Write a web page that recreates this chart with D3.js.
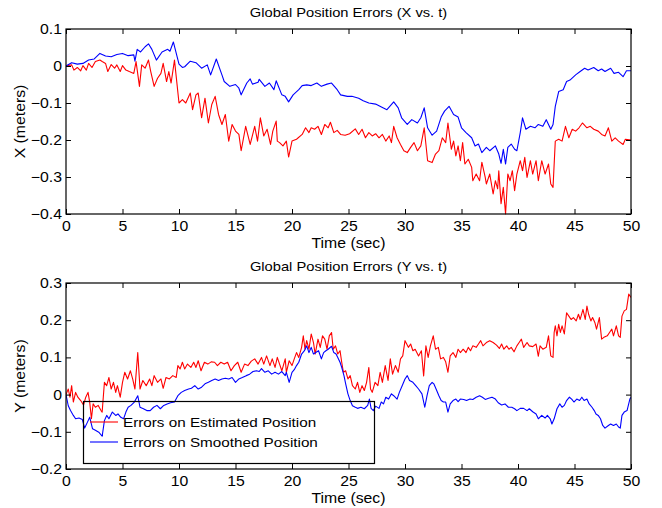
<!DOCTYPE html>
<html>
<head>
<meta charset="utf-8">
<script src="https://cdn.jsdelivr.net/npm/d3@7"></script>
<style>
  body { margin: 0; background: #fff; }
  svg text { font-family: "Liberation Sans", Arial, Helvetica, sans-serif; fill: #000; }
</style>
</head>
<body>
<svg id="chart" width="662" height="508"></svg>
<script>
// values, [time (sec), error (m)]
var xEstimated = [[0,0],[0.5,0.003],[0.7,-0.011],[1,-0.004],[1.3,-0.013],[1.5,0.001],[1.8,-0.011],[2,0.007],[2.3,-0.004],[2.6,0.012],[3,0.016],[3.2,0.012],[3.5,0.007],[3.7,-0.015],[4,0.004],[4.3,-0.006],[4.5,0.003],[4.8,-0.015],[5,0.001],[5.3,-0.011],[5.6,-0.015],[6,-0.02],[6.2,0.012],[6.5,-0.055],[6.7,0.003],[7,-0.006],[7.3,0.016],[7.5,-0.015],[7.8,-0.055],[8.1,-0.033],[8.4,-0.02],[8.6,0.007],[8.9,-0.042],[9.1,-0.015],[9.3,-0.046],[9.6,0.016],[10,-0.1],[10.3,-0.091],[10.6,-0.1],[11,-0.073],[11.2,-0.118],[11.5,-0.078],[11.7,-0.073],[12,-0.14],[12.3,-0.087],[12.6,-0.154],[12.9,-0.104],[13.2,-0.082],[13.5,-0.131],[13.8,-0.158],[14.1,-0.131],[14.4,-0.203],[14.7,-0.158],[15,-0.176],[15.3,-0.185],[15.5,-0.229],[15.9,-0.163],[16.3,-0.212],[16.7,-0.163],[16.95,-0.203],[17.2,-0.14],[17.5,-0.189],[17.8,-0.171],[18.1,-0.212],[18.3,-0.176],[18.6,-0.149],[18.7,-0.203],[18.9,-0.207],[19.2,-0.216],[19.5,-0.203],[19.7,-0.246],[20,-0.203],[20.4,-0.198],[20.9,-0.185],[21.2,-0.167],[21.5,-0.18],[21.7,-0.167],[22,-0.171],[22.3,-0.163],[22.6,-0.185],[22.9,-0.158],[23.2,-0.167],[23.4,-0.152],[23.7,-0.18],[24,-0.174],[24.3,-0.185],[24.7,-0.187],[25.1,-0.183],[25.6,-0.17],[25.9,-0.185],[26.2,-0.171],[26.5,-0.194],[26.8,-0.18],[27.1,-0.189],[27.4,-0.183],[27.7,-0.194],[28,-0.185],[28.3,-0.203],[28.6,-0.189],[28.8,-0.207],[29,-0.163],[29.3,-0.194],[29.6,-0.212],[29.9,-0.229],[30.2,-0.234],[30.5,-0.22],[30.8,-0.207],[31.1,-0.229],[31.4,-0.216],[31.7,-0.167],[32,-0.256],[32.4,-0.261],[32.7,-0.238],[33,-0.229],[33.3,-0.194],[33.6,-0.207],[33.8,-0.154],[34.1,-0.225],[34.3,-0.203],[34.5,-0.243],[34.7,-0.216],[34.9,-0.256],[35.1,-0.207],[35.3,-0.265],[35.6,-0.252],[35.9,-0.274],[36,-0.31],[36.3,-0.292],[36.6,-0.31],[36.8,-0.26],[37.1,-0.301],[37.2,-0.319],[37.5,-0.292],[37.8,-0.346],[38,-0.31],[38.2,-0.332],[38.3,-0.283],[38.5,-0.372],[38.7,-0.328],[38.9,-0.4],[39.1,-0.292],[39.3,-0.31],[39.5,-0.283],[39.7,-0.337],[39.9,-0.292],[40.2,-0.256],[40.4,-0.283],[40.6,-0.247],[40.8,-0.301],[41.1,-0.256],[41.3,-0.292],[41.6,-0.256],[41.8,-0.31],[42.1,-0.256],[42.4,-0.292],[42.7,-0.265],[42.9,-0.319],[43.1,-0.328],[43.3,-0.203],[43.6,-0.198],[43.9,-0.203],[44.2,-0.163],[44.5,-0.194],[44.8,-0.171],[45.1,-0.176],[45.4,-0.167],[45.7,-0.154],[46.1,-0.167],[46.4,-0.163],[46.7,-0.171],[47.1,-0.176],[47.4,-0.185],[47.7,-0.189],[48,-0.167],[48.3,-0.203],[48.6,-0.194],[48.9,-0.203],[49.3,-0.212],[49.5,-0.198],[50,-0.2]];

var xSmoothed = [[0,0],[0.5,0.009],[1,0.005],[1.5,0.007],[2,0.016],[2.5,0.019],[3,0.034],[3.5,0.027],[4,0.025],[4.5,0.031],[5,0.034],[5.5,0.028],[6,0.03],[6.1,0.013],[6.3,0.045],[6.6,0.038],[7,0.052],[7.3,0.06],[7.6,0.045],[8,0.016],[8.5,0.038],[9,0.045],[9.2,0.04],[9.5,0.065],[10,0.005],[10.3,-0.004],[10.5,-0.002],[11,0.013],[11.5,0.009],[12,-0.006],[12.5,0.003],[12.8,-0.024],[13.3,0.019],[13.8,-0.024],[14,-0.042],[14.5,-0.055],[15,-0.05],[15.3,-0.06],[15.5,-0.078],[16,-0.046],[16.3,-0.035],[16.5,-0.049],[17,-0.044],[17.1,-0.036],[17.6,-0.055],[18,-0.046],[18.4,-0.064],[18.6,-0.04],[19.1,-0.078],[19.4,-0.082],[19.7,-0.097],[20.1,-0.078],[20.6,-0.064],[20.9,-0.053],[21.3,-0.051],[21.7,-0.053],[22.2,-0.046],[22.6,-0.055],[23.1,-0.049],[23.5,-0.046],[24,-0.064],[24.3,-0.078],[24.9,-0.082],[25.3,-0.082],[25.9,-0.087],[26.3,-0.094],[26.8,-0.1],[27.4,-0.103],[28,-0.112],[28.4,-0.118],[29,-0.097],[29.4,-0.113],[29.7,-0.14],[30.2,-0.158],[30.6,-0.145],[31.1,-0.154],[31.4,-0.14],[31.7,-0.113],[32,-0.167],[32.4,-0.187],[32.8,-0.176],[33.2,-0.138],[33.5,-0.122],[33.9,-0.109],[34.3,-0.131],[34.7,-0.138],[35,-0.167],[35.4,-0.18],[35.9,-0.194],[36.2,-0.216],[36.5,-0.211],[36.8,-0.234],[37.2,-0.22],[37.5,-0.229],[38,-0.216],[38.3,-0.238],[38.5,-0.263],[38.7,-0.225],[38.9,-0.265],[39.1,-0.22],[39.4,-0.211],[39.7,-0.225],[39.9,-0.229],[40.2,-0.18],[40.4,-0.14],[40.7,-0.171],[41.1,-0.163],[41.5,-0.167],[41.8,-0.158],[42.2,-0.163],[42.5,-0.145],[42.9,-0.171],[43.1,-0.158],[43.3,-0.109],[43.6,-0.069],[44,-0.064],[44.3,-0.042],[44.6,-0.038],[45.1,-0.024],[45.5,-0.015],[45.9,-0.006],[46.2,-0.011],[46.7,-0.004],[47.1,-0.013],[47.4,-0.008],[47.7,-0.015],[48.2,-0.006],[48.5,-0.02],[48.9,-0.017],[49.3,-0.029],[49.6,-0.013],[50,-0.013]];

var yEstimated = [[0,0],[0.2,0.015],[0.35,-0.007],[0.5,0.024],[0.65,-0.02],[0.85,0.006],[1.05,-0.007],[1.3,-0.016],[1.55,-0.028],[1.75,-0.007],[1.95,0.006],[2.1,-0.021],[2.25,-0.065],[2.4,-0.025],[2.6,-0.034],[2.85,-0.029],[3.1,-0.043],[3.2,-0.047],[3.4,0.033],[3.6,0.024],[3.8,0.046],[4,0.015],[4.2,0.033],[4.4,0.006],[4.55,0.024],[4.8,-0.007],[5,0.033],[5.2,0.06],[5.45,0.042],[5.7,0.064],[5.9,0.042],[6.1,0.015],[6.35,0.113],[6.55,0.015],[6.8,0.038],[7.1,0.024],[7.4,0.042],[7.6,0.024],[7.8,0.051],[8.1,0.033],[8.4,0.042],[8.6,0.017],[8.85,0.046],[9.15,0.042],[9.45,0.051],[9.75,0.046],[9.9,0.078],[10.1,0.069],[10.3,0.087],[10.5,0.069],[10.75,0.082],[11.05,0.073],[11.3,0.087],[11.5,0.073],[11.7,0.091],[11.95,0.064],[12.25,0.087],[12.55,0.082],[12.85,0.088],[13.15,0.087],[13.4,0.078],[13.7,0.087],[14,0.082],[14.3,0.087],[14.6,0.064],[14.9,0.078],[15.2,0.087],[15.5,0.06],[15.8,0.082],[16.1,0.078],[16.4,0.09],[16.7,0.096],[17,0.082],[17.3,0.1],[17.5,0.082],[17.75,0.104],[18.05,0.078],[18.25,0.096],[18.5,0.073],[18.7,0.1],[18.9,0.082],[19.1,0.064],[19.4,0.096],[19.5,0.06],[19.75,0.091],[20,0.078],[20.2,0.096],[20.4,0.113],[20.6,0.1],[20.85,0.127],[21,0.158],[21.15,0.122],[21.3,0.145],[21.5,0.122],[21.7,0.163],[21.9,0.14],[22.05,0.109],[22.3,0.149],[22.5,0.127],[22.7,0.158],[22.9,0.149],[23.1,0.122],[23.3,0.158],[23.5,0.167],[23.65,0.122],[23.85,0.131],[24.05,0.109],[24.25,0.118],[24.4,0.087],[24.55,0.06],[24.75,0.064],[24.95,0.042],[25.15,0.051],[25.35,0.024],[25.6,0.015],[25.8,0.033],[26,0.006],[26.2,0.024],[26.4,0.011],[26.6,0.033],[26.8,0.073],[26.95,0.015],[27.1,0.006],[27.35,0.033],[27.6,0.024],[27.8,0.06],[28,0.033],[28.25,0.078],[28.5,0.038],[28.7,0.096],[28.9,0.055],[29.15,0.078],[29.4,0.06],[29.6,0.096],[29.8,0.104],[30,0.145],[30.3,0.127],[30.5,0.136],[30.7,0.118],[30.9,0.122],[31.2,0.104],[31.45,0.118],[31.65,0.05],[31.85,0.131],[32.05,0.1],[32.25,0.131],[32.5,0.158],[32.7,0.122],[32.95,0.127],[33.15,0.096],[33.4,0.1],[33.6,0.088],[33.8,0.06],[34,0.104],[34.25,0.113],[34.5,0.1],[34.7,0.122],[34.9,0.113],[35.15,0.122],[35.4,0.113],[35.6,0.127],[35.8,0.118],[36,0.131],[36.3,0.127],[36.5,0.136],[36.7,0.145],[36.9,0.131],[37.2,0.14],[37.5,0.145],[37.8,0.14],[38.1,0.133],[38.35,0.124],[38.55,0.136],[38.75,0.122],[39,0.131],[39.2,0.122],[39.4,0.127],[39.65,0.115],[39.9,0.131],[40.1,0.14],[40.3,0.149],[40.5,0.127],[40.8,0.14],[41,0.131],[41.3,0.129],[41.6,0.136],[41.8,0.103],[41.95,0.131],[42.2,0.122],[42.5,0.127],[42.7,0.158],[42.9,0.104],[43.1,0.1],[43.2,0.167],[43.3,0.185],[43.45,0.158],[43.6,0.189],[43.75,0.167],[43.9,0.185],[44.1,0.163],[44.3,0.22],[44.5,0.211],[44.7,0.202],[44.9,0.207],[45.15,0.198],[45.35,0.216],[45.5,0.202],[45.75,0.229],[45.95,0.202],[46.1,0.238],[46.25,0.216],[46.45,0.198],[46.6,0.207],[46.8,0.194],[46.95,0.176],[47.2,0.207],[47.4,0.149],[47.6,0.154],[47.9,0.158],[48.1,0.167],[48.3,0.176],[48.45,0.158],[48.7,0.185],[48.9,0.158],[49.05,0.154],[49.2,0.211],[49.4,0.225],[49.6,0.229],[49.8,0.27],[50,0.261]];

var ySmoothed = [[0,0],[0.2,-0.03],[0.4,-0.043],[0.65,-0.056],[0.85,-0.065],[1.15,-0.063],[1.45,-0.067],[1.65,-0.09],[1.9,-0.074],[2.1,-0.061],[2.35,-0.092],[2.6,-0.096],[2.9,-0.101],[3.2,-0.112],[3.4,-0.07],[3.6,-0.056],[3.8,-0.065],[4.1,-0.047],[4.4,-0.056],[4.6,-0.052],[4.85,-0.061],[5.1,-0.065],[5.3,-0.047],[5.5,-0.034],[5.75,-0.029],[6.05,-0.02],[6.35,-0.003],[6.55,-0.034],[6.85,-0.038],[7.15,-0.043],[7.45,-0.043],[7.75,-0.034],[8.05,-0.029],[8.35,-0.038],[8.65,-0.029],[8.95,-0.025],[9.25,-0.022],[9.6,-0.02],[9.9,-0.003],[10.2,0.006],[10.5,0.011],[10.85,0.015],[11.1,0.017],[11.4,0.024],[11.7,0.015],[12,0.02],[12.3,0.029],[12.6,0.033],[12.9,0.038],[13.2,0.042],[13.5,0.038],[13.8,0.042],[14.1,0.044],[14.4,0.042],[14.7,0.046],[15,0.033],[15.3,0.042],[15.6,0.046],[15.95,0.051],[16.25,0.055],[16.55,0.062],[16.85,0.064],[17.1,0.062],[17.3,0.07],[17.6,0.06],[17.9,0.064],[18.2,0.055],[18.5,0.06],[18.8,0.055],[19.1,0.062],[19.4,0.051],[19.5,0.06],[19.75,0.033],[20,0.06],[20.2,0.067],[20.4,0.078],[20.6,0.087],[20.85,0.109],[21.1,0.118],[21.3,0.131],[21.5,0.113],[21.7,0.127],[21.9,0.109],[22.1,0.113],[22.35,0.118],[22.6,0.096],[22.8,0.113],[23,0.118],[23.2,0.122],[23.5,0.13],[23.7,0.113],[23.9,0.109],[24.05,0.1],[24.25,0.087],[24.4,0.073],[24.6,0.051],[24.75,0.029],[24.95,0.002],[25.15,-0.016],[25.35,-0.03],[25.6,-0.034],[25.8,-0.037],[26.1,-0.034],[26.4,-0.038],[26.7,-0.029],[26.85,-0.012],[27,-0.037],[27.2,-0.043],[27.4,-0.031],[27.7,-0.037],[27.9,-0.02],[28.1,-0.025],[28.3,-0.007],[28.55,-0.012],[28.8,0.002],[29,-0.003],[29.3,-0.012],[29.5,0.006],[29.75,0.024],[30,0.042],[30.2,0.051],[30.4,0.038],[30.7,0.033],[30.95,0.024],[31.2,0.015],[31.5,0.002],[31.75,-0.034],[31.95,-0.003],[32.15,0.024],[32.4,0.033],[32.55,0.029],[32.75,0.015],[33,-0.003],[33.2,-0.016],[33.4,-0.02],[33.6,-0.02],[33.8,-0.047],[34,-0.025],[34.25,-0.016],[34.5,-0.012],[34.7,-0.019],[34.9,-0.012],[35.2,-0.013],[35.45,-0.016],[35.75,-0.012],[36,-0.013],[36.3,-0.007],[36.6,-0.003],[36.85,-0.007],[37.1,-0.013],[37.4,-0.01],[37.7,-0.007],[38,-0.012],[38.25,-0.022],[38.55,-0.028],[38.85,-0.025],[39.15,-0.034],[39.45,-0.034],[39.7,-0.038],[39.9,-0.043],[40.2,-0.037],[40.5,-0.037],[40.8,-0.043],[41,-0.038],[41.3,-0.046],[41.6,-0.052],[41.8,-0.065],[42.1,-0.056],[42.4,-0.063],[42.6,-0.056],[42.85,-0.065],[43,-0.079],[43.2,-0.065],[43.45,-0.038],[43.7,-0.025],[43.9,-0.034],[44.1,-0.029],[44.3,-0.016],[44.55,-0.007],[44.75,-0.012],[44.95,-0.02],[45.2,-0.012],[45.45,-0.016],[45.65,-0.007],[45.85,-0.016],[46.1,-0.012],[46.3,-0.025],[46.55,-0.034],[46.75,-0.043],[46.9,-0.052],[47.1,-0.056],[47.3,-0.065],[47.5,-0.083],[47.7,-0.09],[48,-0.083],[48.2,-0.079],[48.45,-0.083],[48.7,-0.079],[48.9,-0.087],[49.05,-0.09],[49.2,-0.056],[49.4,-0.047],[49.65,-0.043],[49.9,-0.012],[50,-0.007]];

var timeTicks = [0, 5, 10, 15, 20, 25, 30, 35, 40, 45, 50];
var xTicks = [-0.4, -0.3, -0.2, -0.1, 0, 0.1];
var yTicks = [-0.2, -0.1, 0, 0.1, 0.2, 0.3];
var legendLabels = ["Errors on Estimated Position", "Errors on Smoothed Position"];
var seriesColors = ["#ff0000", "#0000ff"];

var svg = d3.select("#chart");
svg.append("rect").attr("width", 662).attr("height", 508).attr("fill", "white");

var fmt = function(v) { return v === 0 ? "0" : d3.format(".1f")(v); };
var STRETCH = 1.13; // the original lettering is a bit wider than Arial

// widen a text horizontally about its own x anchor
function stretch(sel) {
  sel.each(function() {
    var t = d3.select(this);
    var ax = +t.attr("x") || 0, ay = +t.attr("y") || 0;
    t.attr("transform", (t.attr("transform") || "") +
      " translate(" + ax + "," + ay + ") scale(" + STRETCH + ",1) translate(" + (-ax) + "," + (-ay) + ")");
  });
}

function drawPanel(opt) {
  var x = d3.scaleLinear().domain([0, 50]).range([66, 631]);
  var y = d3.scaleLinear().domain(opt.domain).range([opt.bottom, opt.top]);
  var g = svg.append("g");

  var clipId = "clip" + opt.id;
  g.append("clipPath").attr("id", clipId).append("rect")
    .attr("x", 66).attr("y", opt.top - 1).attr("width", 565).attr("height", opt.bottom - opt.top + 2);

  var line = d3.line().x(function(d){ return x(d[0]) }).y(function(d){ return y(d[1]) });
  opt.series.forEach(function(s, i) {
    g.append("path").datum(s)
      .attr("clip-path", "url(#" + clipId + ")")
      .attr("fill", "none").attr("stroke", seriesColors[i]).attr("stroke-width", 1.1)
      .attr("stroke-linejoin", "round")
      .attr("d", line);
  });

  // axes with inward ticks, MATLAB box style
  var axB = g.append("g").attr("transform", "translate(0," + opt.bottom + ")")
    .call(d3.axisBottom(x).tickValues(timeTicks).tickSizeInner(-5).tickSizeOuter(0).tickPadding(7).tickFormat(d3.format("d")));
  var axT = g.append("g").attr("transform", "translate(0," + opt.top + ")")
    .call(d3.axisTop(x).tickValues(timeTicks).tickSizeInner(-5).tickSizeOuter(0).tickFormat(""));
  var axL = g.append("g").attr("transform", "translate(66,0)")
    .call(d3.axisLeft(y).tickValues(opt.ticks).tickSizeInner(-5).tickSizeOuter(0).tickPadding(4).tickFormat(fmt));
  var axR = g.append("g").attr("transform", "translate(631,0)")
    .call(d3.axisRight(y).tickValues(opt.ticks).tickSizeInner(-5).tickSizeOuter(0).tickFormat(""));
  [axB, axT, axL, axR].forEach(function(a) {
    a.select(".domain").remove();
    a.selectAll("line").attr("stroke", "#000");
    a.selectAll("text").attr("font-size", 14).attr("font-family", "Liberation Sans, Arial, sans-serif").attr("fill", "#000");
  });
  axB.selectAll("text").attr("dy", "0.71em");
  stretch(axB.selectAll("text"));
  stretch(axL.selectAll("text"));

  g.append("rect").attr("x", 66).attr("y", opt.top).attr("width", 565).attr("height", opt.bottom - opt.top)
    .attr("fill", "none").attr("stroke", "#000").attr("stroke-width", 1.2);

  g.append("text").attr("x", 348.5).attr("y", opt.top - 12).attr("text-anchor", "middle")
    .attr("font-size", 13).text(opt.title).call(stretch);
  g.append("text").attr("x", 348.5).attr("y", opt.bottom + 34).attr("text-anchor", "middle")
    .attr("font-size", 14).text("Time (sec)").call(stretch);
  g.append("text").attr("transform", "translate(25," + ((opt.top + opt.bottom) / 2) + ") rotate(-90) scale(" + STRETCH + ",1)")
    .attr("text-anchor", "middle").attr("font-size", 14).text(opt.ylabel);
  return { x: x, y: y, g: g };
}

drawPanel({ id: 1, top: 29, bottom: 214, domain: [-0.4, 0.1], ticks: xTicks,
  series: [xEstimated, xSmoothed], title: "Global Position Errors (X vs. t)", ylabel: "X (meters)" });
var p2 = drawPanel({ id: 2, top: 283, bottom: 469, domain: [-0.2, 0.3], ticks: yTicks,
  series: [yEstimated, ySmoothed], title: "Global Position Errors (Y vs. t)", ylabel: "Y (meters)" });

// legend (no fill, as in the original)
var leg = p2.g.append("g");
leg.append("rect").attr("x", 83.5).attr("y", 401.5).attr("width", 291).attr("height", 62)
  .attr("fill", "none").attr("stroke", "#000").attr("stroke-width", 1.2);
legendLabels.forEach(function(lbl, i) {
  var ly = 422 + i * 20;
  leg.append("line").attr("x1", 90).attr("x2", 118).attr("y1", ly).attr("y2", ly)
    .attr("stroke", seriesColors[i]).attr("stroke-width", 1.1);
  leg.append("text").attr("x", 123).attr("y", ly).attr("dy", "0.35em")
    .attr("font-size", 13.5).text(lbl).call(stretch);
});
</script>
</body>
</html>
